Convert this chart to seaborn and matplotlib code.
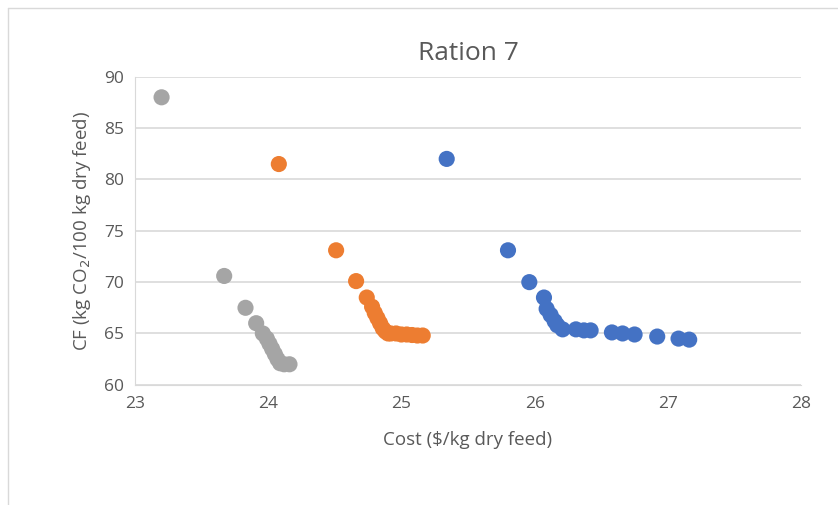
import matplotlib
matplotlib.use("Agg")
import matplotlib.pyplot as plt
import seaborn as sns
import pandas as pd

gray_x = [23.20, 23.67, 23.83, 23.91, 23.96, 23.99, 24.01, 24.03, 24.05, 24.07, 24.09, 24.12, 24.16]
gray_y = [88.0, 70.6, 67.5, 66.0, 65.0, 64.5, 64.0, 63.5, 63.0, 62.5, 62.1, 62.0, 62.0]
orange_x = [24.08, 24.51, 24.66, 24.74, 24.78, 24.80, 24.82, 24.84, 24.86, 24.88, 24.90, 24.92, 24.96, 25.00, 25.04, 25.08, 25.12, 25.16]
orange_y = [81.5, 73.1, 70.1, 68.5, 67.6, 67.0, 66.5, 66.0, 65.5, 65.2, 65.0, 65.0, 65.0, 64.9, 64.9, 64.85, 64.8, 64.8]
blue_x = [25.34, 25.80, 25.96, 26.07, 26.09, 26.12, 26.15, 26.17, 26.21, 26.31, 26.37, 26.42, 26.58, 26.66, 26.75, 26.92, 27.08, 27.16]
blue_y = [82.0, 73.1, 70.0, 68.5, 67.4, 66.8, 66.2, 65.8, 65.4, 65.4, 65.3, 65.3, 65.1, 65.0, 64.9, 64.7, 64.5, 64.4]
x_ticks = [23, 24, 25, 26, 27, 28]
y_ticks = [60, 65, 70, 75, 80, 85, 90]

df = pd.concat([
    pd.DataFrame({"x": gray_x, "y": gray_y, "s": "gray"}),
    pd.DataFrame({"x": orange_x, "y": orange_y, "s": "orange"}),
    pd.DataFrame({"x": blue_x, "y": blue_y, "s": "blue"}),
])
palette = {"gray": "#A5A5A5", "orange": "#ED7D31", "blue": "#4472C4"}

sns.set_style("white")
plt.rcParams['font.family'] = ['Open Sans', 'DejaVu Sans']

fig = plt.figure(figsize=(8.38, 5.05), dpi=100)
ax = fig.add_axes([0.161, 0.238, 0.795, 0.610])
sns.scatterplot(data=df, x="x", y="y", hue="s", palette=palette, s=135,
                edgecolor="none", legend=False, ax=ax, zorder=3)
ax.set_xlim(23, 28)
ax.set_ylim(60, 90)
ax.set_xticks(x_ticks)
ax.set_yticks(y_ticks)
ax.yaxis.grid(True, color="#D9D9D9", linewidth=1.2)
ax.set_axisbelow(True)
for sp in ["top", "right"]:
    ax.spines[sp].set_visible(False)
ax.spines["left"].set_color("#D9D9D9")
ax.spines["bottom"].set_color("#D9D9D9")
ax.tick_params(axis="both", length=0, labelsize=12.5, colors="#595959", pad=8)
ax.set_xlabel("Cost (\\$/kg dry feed)", fontsize=13.5, color="#595959", labelpad=14)
ax.set_ylabel("CF (kg CO$_2$/100 kg dry feed)", fontsize=13.5, color="#595959", labelpad=8)
ax.set_title("Ration 7", fontsize=19, color="#595959", pad=12)

fig.add_artist(plt.Line2D([0.01, 0.01], [0, 0.985], color="#D9D9D9", lw=1))
fig.add_artist(plt.Line2D([0.01, 1], [0.985, 0.985], color="#D9D9D9", lw=1))

fig.savefig("out.png", dpi=100)
